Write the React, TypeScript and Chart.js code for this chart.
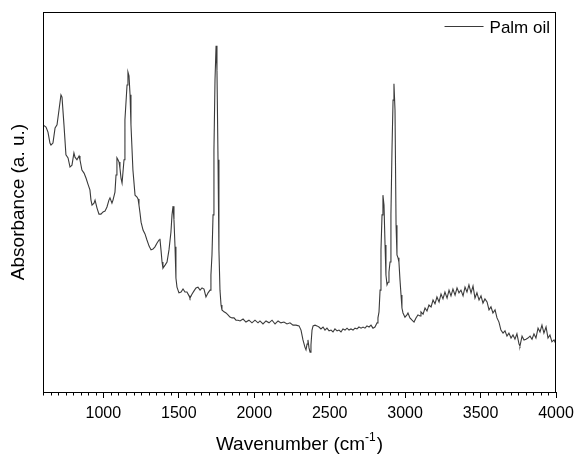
import React, { useEffect, useRef } from "react";
import { Chart, registerables } from "chart.js";

Chart.register(...registerables);

// Palm oil FTIR spectrum
const wavenumber = [
  600, 620, 633, 646, 653, 666, 680, 693, 706, 719, 726, 739, 752, 766, 779, 792, 805, 812, 825, 839,
  845, 858, 872, 885, 898, 911, 918, 925, 938, 945, 958, 971, 984, 998, 1011, 1024, 1037, 1044, 1057, 1064,
  1077, 1084, 1090, 1097, 1104, 1110, 1117, 1124, 1137, 1143, 1157, 1163, 1170, 1177, 1183, 1196, 1210, 1223, 1230, 1236,
  1243, 1250, 1263, 1276, 1289, 1303, 1316, 1329, 1342, 1356, 1369, 1375, 1382, 1389, 1395, 1409, 1422, 1435, 1448, 1455,
  1462, 1468, 1475, 1481, 1488, 1501, 1515, 1528, 1541, 1554, 1568, 1574, 1588, 1601, 1614, 1627, 1641, 1654, 1667, 1680,
  1694, 1707, 1713, 1720, 1727, 1733, 1740, 1747, 1753, 1760, 1766, 1773, 1780, 1786, 1800, 1813, 1826, 1839, 1853, 1866,
  1879, 1893, 1906, 1926, 1945, 1965, 1985, 2005, 2025, 2038, 2058, 2078, 2098, 2118, 2138, 2158, 2177, 2197, 2217, 2237,
  2257, 2277, 2297, 2310, 2323, 2336, 2343, 2350, 2356, 2363, 2370, 2376, 2383, 2390, 2403, 2416, 2429, 2442, 2456, 2469,
  2482, 2496, 2509, 2522, 2535, 2549, 2562, 2575, 2588, 2602, 2615, 2628, 2641, 2655, 2668, 2681, 2694, 2708, 2721, 2734,
  2747, 2761, 2774, 2787, 2800, 2814, 2820, 2827, 2834, 2840, 2847, 2853, 2860, 2867, 2873, 2880, 2887, 2893, 2900, 2906,
  2913, 2920, 2926, 2933, 2940, 2946, 2953, 2959, 2966, 2973, 2979, 2986, 2999, 3012, 3019, 3032, 3046, 3059, 3072, 3085,
  3099, 3105, 3119, 3132, 3145, 3158, 3172, 3185, 3198, 3211, 3225, 3238, 3251, 3264, 3278, 3291, 3304, 3317, 3331, 3344,
  3357, 3370, 3384, 3397, 3410, 3423, 3437, 3450, 3463, 3476, 3490, 3503, 3516, 3529, 3543, 3556, 3569, 3582, 3596, 3609,
  3622, 3635, 3649, 3662, 3675, 3688, 3702, 3715, 3728, 3741, 3755, 3761, 3775, 3788, 3801, 3814, 3828, 3841, 3854, 3867,
  3881, 3894, 3907, 3920, 3934, 3947, 3960, 3973, 3987, 4000,
];

const absorbance = [
  0.703, 0.697, 0.684, 0.655, 0.650, 0.655, 0.695, 0.703, 0.742, 0.782, 0.776, 0.703, 0.624, 0.616, 0.592, 0.597, 0.629, 0.618, 0.611, 0.621,
  0.611, 0.584, 0.576, 0.563, 0.547, 0.532, 0.505, 0.492, 0.497, 0.505, 0.484, 0.468, 0.468, 0.474, 0.476, 0.487, 0.505, 0.511, 0.497, 0.505,
  0.526, 0.571, 0.616, 0.611, 0.605, 0.589, 0.563, 0.550, 0.611, 0.716, 0.808, 0.842, 0.832, 0.782, 0.703, 0.584, 0.518, 0.513, 0.508, 0.492,
  0.471, 0.447, 0.426, 0.416, 0.400, 0.384, 0.374, 0.376, 0.382, 0.392, 0.400, 0.403, 0.374, 0.342, 0.326, 0.334, 0.342, 0.374, 0.421, 0.466,
  0.489, 0.453, 0.382, 0.300, 0.276, 0.261, 0.263, 0.271, 0.263, 0.263, 0.253, 0.247, 0.258, 0.266, 0.274, 0.276, 0.268, 0.274, 0.271, 0.250,
  0.261, 0.268, 0.308, 0.361, 0.466, 0.637, 0.821, 0.911, 0.847, 0.611, 0.374, 0.268, 0.229, 0.216, 0.211, 0.208, 0.203, 0.197, 0.195, 0.195,
  0.189, 0.189, 0.187, 0.192, 0.184, 0.189, 0.182, 0.189, 0.182, 0.187, 0.179, 0.187, 0.182, 0.189, 0.179, 0.187, 0.182, 0.184, 0.179, 0.182,
  0.176, 0.176, 0.174, 0.163, 0.137, 0.118, 0.111, 0.126, 0.137, 0.116, 0.105, 0.124, 0.163, 0.174, 0.176, 0.174, 0.171, 0.166, 0.171, 0.163,
  0.168, 0.161, 0.163, 0.158, 0.166, 0.161, 0.163, 0.158, 0.166, 0.163, 0.168, 0.163, 0.166, 0.163, 0.168, 0.166, 0.171, 0.168, 0.171, 0.168,
  0.174, 0.171, 0.176, 0.168, 0.171, 0.182, 0.195, 0.211, 0.268, 0.374, 0.466, 0.518, 0.492, 0.387, 0.308, 0.282, 0.289, 0.316, 0.342, 0.466,
  0.637, 0.768, 0.811, 0.742, 0.439, 0.361, 0.353, 0.342, 0.295, 0.255, 0.221, 0.208, 0.197, 0.203, 0.208, 0.195, 0.189, 0.184, 0.195, 0.203,
  0.200, 0.211, 0.205, 0.221, 0.213, 0.229, 0.224, 0.242, 0.232, 0.250, 0.237, 0.258, 0.245, 0.263, 0.247, 0.268, 0.253, 0.271, 0.255, 0.274,
  0.261, 0.268, 0.253, 0.276, 0.263, 0.282, 0.261, 0.279, 0.247, 0.261, 0.242, 0.253, 0.234, 0.245, 0.237, 0.216, 0.224, 0.208, 0.216, 0.195,
  0.184, 0.163, 0.155, 0.161, 0.147, 0.155, 0.142, 0.150, 0.139, 0.153, 0.126, 0.121, 0.147, 0.137, 0.139, 0.142, 0.147, 0.139, 0.153, 0.142,
  0.168, 0.158, 0.176, 0.155, 0.171, 0.142, 0.150, 0.132, 0.137, 0.126,
];

const xTickValues = [1000, 1500, 2000, 2500, 3000, 3500, 4000];
const xMin = 600;
const xMax = 4000;
const yMin = 0;
const yMax = 1;
const minorStep = 50;
const majorStep = 500;

const seriesLabel = "Palm oil";
const xTitleMain = "Wavenumber (cm";
const xTitleSup = "-1";
const xTitleEnd = ")";
const yTitle = "Absorbance (a. u.)";

const FONT = '"Liberation Sans", Arial, Helvetica, sans-serif';
const LINE_COLOR = "#3a3a3a";

export default function App() {
  const ref = useRef<HTMLCanvasElement>(null);

  useEffect(() => {
    document.body.style.margin = "0";
    const canvas = ref.current;
    if (!canvas) return;

    const decorations = {
      id: "decorations",
      afterDraw(chart: any) {
        const { ctx, chartArea } = chart;
        const { left, top, right, bottom } = chartArea;
        const xs = chart.scales.x;
        ctx.save();

        // frame
        ctx.strokeStyle = "#000";
        ctx.lineWidth = 1;
        ctx.strokeRect(left + 0.5, top + 0.5, right - left - 1, bottom - top);

        // minor ticks
        ctx.beginPath();
        for (let v = xMin; v <= xMax; v += minorStep) {
          if (v % majorStep === 0) continue;
          const px = Math.round(xs.getPixelForValue(v)) + 0.5;
          ctx.moveTo(px, bottom);
          ctx.lineTo(px, bottom + 3.5);
        }
        ctx.stroke();

        // x title with superscript
        const cx = (left + right) / 2;
        ctx.fillStyle = "#000";
        ctx.textBaseline = "alphabetic";
        ctx.textAlign = "left";
        ctx.font = `19px ${FONT}`;
        const w1 = ctx.measureText(xTitleMain).width;
        const w3 = ctx.measureText(xTitleEnd).width;
        ctx.font = `12px ${FONT}`;
        const w2 = ctx.measureText(xTitleSup).width;
        const total = w1 + w2 + w3 + 1;
        let sx = cx - total / 2;
        const baseY = 450;
        ctx.font = `19px ${FONT}`;
        ctx.fillText(xTitleMain, sx, baseY);
        sx += w1;
        ctx.font = `12px ${FONT}`;
        ctx.fillText(xTitleSup, sx, baseY - 9);
        sx += w2 + 1;
        ctx.font = `19px ${FONT}`;
        ctx.fillText(xTitleEnd, sx, baseY);

        // y title
        ctx.save();
        ctx.translate(24, (top + bottom) / 2);
        ctx.rotate(-Math.PI / 2);
        ctx.textAlign = "center";
        ctx.font = `19px ${FONT}`;
        ctx.fillText(yTitle, 0, 0);
        ctx.restore();

        // legend
        ctx.font = `17px ${FONT}`;
        ctx.textAlign = "right";
        const textRight = right - 6;
        const tw = ctx.measureText(seriesLabel).width;
        ctx.fillText(seriesLabel, textRight, top + 20.5);
        const lineEnd = textRight - tw - 6;
        ctx.strokeStyle = LINE_COLOR;
        ctx.beginPath();
        ctx.moveTo(lineEnd - 39, top + 14.5);
        ctx.lineTo(lineEnd, top + 14.5);
        ctx.stroke();

        ctx.restore();
      },
    };

    const chart = new Chart(canvas, {
      type: "line",
      data: {
        datasets: [
          {
            label: seriesLabel,
            data: wavenumber.map((w, i) => ({ x: w, y: absorbance[i] })),
            borderColor: LINE_COLOR,
            borderWidth: 1.1,
            pointRadius: 0,
            fill: false,
            tension: 0,
          },
        ],
      },
      options: {
        responsive: false,
        animation: false,
        events: [],
        layout: { padding: { top: 12, right: 20, left: 43, bottom: 0 } },
        plugins: {
          legend: { display: false },
          tooltip: { enabled: false },
          title: { display: false },
        },
        scales: {
          x: {
            type: "linear",
            min: xMin,
            max: xMax,
            afterBuildTicks: (scale: any) => {
              scale.ticks = xTickValues.map((v) => ({ value: v }));
            },
            afterFit: (scale: any) => {
              scale.height = 63;
              scale.paddingLeft = 0;
              scale.paddingRight = 0;
            },
            ticks: {
              color: "#000",
              padding: 6,
              maxRotation: 0,
              autoSkip: false,
              font: { family: FONT, size: 16 },
              callback: (v: any) => String(v),
            },
            grid: {
              display: true,
              drawOnChartArea: false,
              drawTicks: true,
              tickLength: 6,
              color: "#000",
              lineWidth: 1,
            },
            border: { display: false },
            title: { display: false },
          },
          y: {
            type: "linear",
            display: false,
            min: yMin,
            max: yMax,
          },
        },
      },
      plugins: [decorations],
    });

    return () => chart.destroy();
  }, []);

  return (
    <canvas
      ref={ref}
      width={576}
      height={455}
      style={{ display: "block", width: 576, height: 455 }}
    />
  );
}
